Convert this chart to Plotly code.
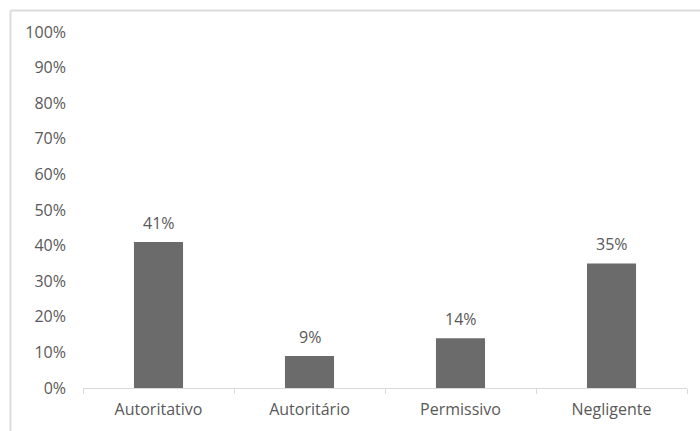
import plotly.graph_objects as go

# Estilos parentais e respectiva proporção
categorias = ["Autoritativo", "Autoritário", "Permissivo", "Negligente"]
valores = [0.41, 0.09, 0.14, 0.35]
rotulos = ["41%", "9%", "14%", "35%"]

W, H = 700, 431
ml, mr, mt, mb = 83, 13, 32, 43
plot_w = W - ml - mr
plot_h = H - mt - mb

cor_texto = "#595959"
cor_linha = "#d9d9d9"
fonte = "'Open Sans', sans-serif"
tam = 16

fig = go.Figure(
    go.Bar(
        x=categorias,
        y=valores,
        marker=dict(color="#6b6b6b", line=dict(width=0)),
        width=0.325,
        hoverinfo="x+y",
    )
)

# Rótulos de valor acima de cada barra
for cat, v, r in zip(categorias, valores, rotulos):
    fig.add_annotation(
        x=cat, y=v, text=r, showarrow=False,
        yanchor="bottom", yshift=6,
        font=dict(size=tam, color=cor_texto, family=fonte),
    )

# Moldura da área do gráfico (superior e esquerda)
x_borda = (10.5 - ml) / plot_w
y_borda = (H - mb - 10.5) / plot_h
fig.add_shape(type="line", xref="paper", yref="paper",
              x0=x_borda, x1=(W + 5 - ml) / plot_w, y0=y_borda, y1=y_borda,
              line=dict(color="#dcdcdc", width=2))
fig.add_shape(type="line", xref="paper", yref="paper",
              x0=x_borda, x1=x_borda, y0=y_borda, y1=-(mb + 5) / plot_h,
              line=dict(color="#dcdcdc", width=2))

fig.update_layout(
    width=W,
    height=H,
    margin=dict(l=ml, r=mr, t=mt, b=mb),
    paper_bgcolor="white",
    plot_bgcolor="white",
    showlegend=False,
    bargap=0.675,
    font=dict(family=fonte, color=cor_texto, size=tam),
)
fig.update_xaxes(
    showline=True,
    linecolor=cor_linha,
    linewidth=1,
    ticks="outside",
    tickson="boundaries",
    ticklen=5,
    tickcolor=cor_linha,
    showgrid=False,
    ticklabelstandoff=7,
    tickfont=dict(size=tam, color=cor_texto, family=fonte),
)
fig.update_yaxes(
    range=[0, 1],
    dtick=0.1,
    tickformat=".0%",
    showgrid=False,
    showline=False,
    zeroline=False,
    ticklabelstandoff=16,
    tickfont=dict(size=tam, color=cor_texto, family=fonte),
)

fig.write_html("out.html")
